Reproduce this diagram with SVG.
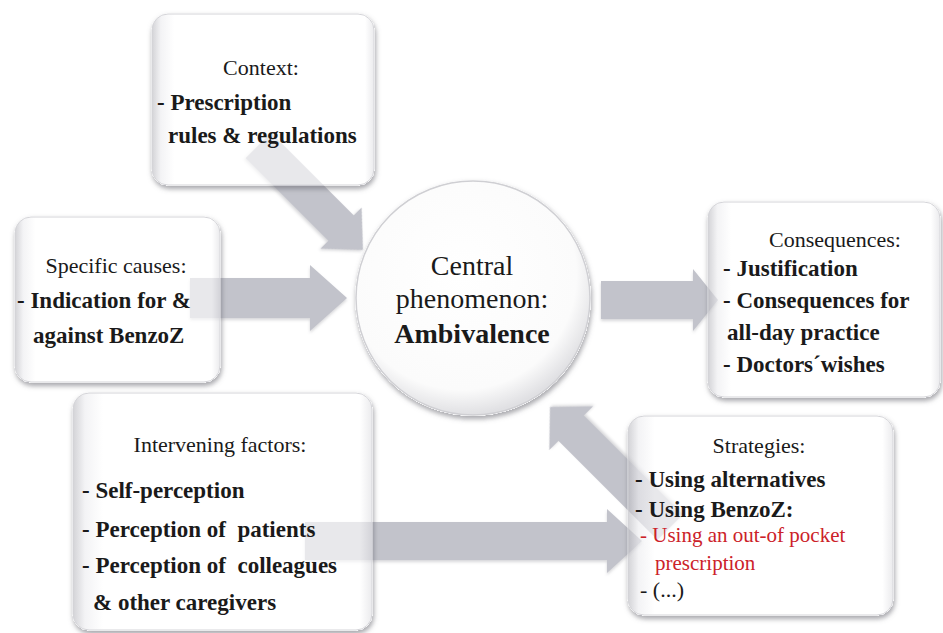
<svg xmlns="http://www.w3.org/2000/svg" width="943" height="633" viewBox="0 0 943 633">
<style>
  .t { font-family: "Liberation Serif", "DejaVu Serif", serif; fill: #1a1a1a; }
  .h { font-size: 22px; }
  .b { font-size: 23px; font-weight: bold; }
  .c { font-size: 28px; }
  .r { font-size: 21px; fill: #cc2229; }
  .box { fill: url(#boxG); fill-opacity: 0.62; stroke: #d4d4d8; stroke-width: 1; filter: url(#sh); }
  .arr { fill: #c2c3cb; filter: url(#ash); }
</style>
<defs>
  <linearGradient id="boxG" x1="0" y1="0" x2="1" y2="0">
    <stop offset="0" stop-color="#b8b8be"/>
    <stop offset="0.04" stop-color="#ececef"/>
    <stop offset="0.1" stop-color="#ffffff"/>
    <stop offset="0.96" stop-color="#ffffff"/>
    <stop offset="1" stop-color="#dedee2"/>
  </linearGradient>
  <radialGradient id="cirG" cx="0.45" cy="0.4" r="0.6">
    <stop offset="0" stop-color="#ffffff"/>
    <stop offset="0.82" stop-color="#fbfbfb"/>
    <stop offset="1" stop-color="#e0e0e3"/>
  </radialGradient>
  <filter id="sh" x="-10%" y="-10%" width="125%" height="130%">
    <feComponentTransfer in="SourceAlpha" result="A"><feFuncA type="linear" slope="6"/></feComponentTransfer>
    <feGaussianBlur in="A" stdDeviation="2.5" result="blur"/>
    <feOffset in="blur" dx="1" dy="3" result="off"/>
    <feFlood flood-color="#6e6e76" flood-opacity="0.6"/>
    <feComposite in2="off" operator="in" result="shadow"/>
    <feComposite in="shadow" in2="A" operator="out" result="so"/>
    <feMerge><feMergeNode in="so"/><feMergeNode in="SourceGraphic"/></feMerge>
  </filter>
  <filter id="ash" x="-10%" y="-20%" width="120%" height="140%">
    <feDropShadow dx="0" dy="2" stdDeviation="1.5" flood-color="#9a9aa0" flood-opacity="0.4"/>
  </filter>
</defs>
<rect width="943" height="633" fill="#ffffff"/>

<g id="connectors">
  <polygon class="arr" transform="translate(363,250) rotate(45)" points="-148,-18 -31,-18 -31,-29 0,0 -31,29 -31,18 -148,18"/>
  <polygon class="arr" transform="translate(347,298)" points="-157,-20 -37,-20 -37,-33 0,0 -37,33 -37,20 -157,20"/>
  <polygon class="arr" transform="translate(718,300)" points="-117,-19 -25,-19 -25,-31 0,0 -25,31 -25,19 -117,19"/>
  <polygon class="arr" transform="translate(642,541)" points="-337,-19 -35,-19 -35,-32 0,0 -35,32 -35,19 -337,19"/>
  <polygon class="arr" transform="translate(550,407) rotate(-135)" points="-170,-18 -30,-18 -30,-31 0,0 -30,31 -30,18 -170,18"/>
</g>

<g id="context">
  <rect class="box" x="152" y="14" width="222" height="171" rx="16"/>
  <text class="t h" x="261" y="75" text-anchor="middle">Context:</text>
  <text class="t b" x="157" y="110">- Prescription</text>
  <text class="t b" x="168" y="143">rules &amp; regulations</text>
</g>

<g id="specific-causes">
  <rect class="box" x="15" y="217" width="205" height="165" rx="16"/>
  <text class="t h" x="116" y="273" text-anchor="middle">Specific causes:</text>
  <text class="t b" x="17" y="308">- Indication for &amp;</text>
  <text class="t b" x="33" y="343">against BenzoZ</text>
</g>

<g id="central">
  <circle cx="473" cy="298" r="117" fill="url(#cirG)" stroke="#cfcfd3" stroke-width="1.5" filter="url(#sh)"/>
  <text class="t c" x="472" y="275" text-anchor="middle">Central</text>
  <text class="t c" x="472" y="308" text-anchor="middle">phenomenon:</text>
  <text class="t c" x="472" y="343" text-anchor="middle" font-weight="bold">Ambivalence</text>
</g>

<g id="consequences">
  <rect class="box" x="708" y="202" width="232" height="195" rx="16"/>
  <text class="t h" x="835" y="247" text-anchor="middle">Consequences:</text>
  <text class="t b" x="723" y="276">- Justification</text>
  <text class="t b" x="723" y="308">- Consequences for</text>
  <text class="t b" x="727" y="340">all-day practice</text>
  <text class="t b" x="723" y="372">- Doctors´wishes</text>
</g>

<g id="intervening-factors">
  <rect class="box" x="73" y="393" width="299" height="237" rx="16"/>
  <text class="t h" x="220" y="452" text-anchor="middle">Intervening factors:</text>
  <text class="t b" x="82" y="498">- Self-perception</text>
  <text class="t b" x="82" y="537">- Perception of&#160; patients</text>
  <text class="t b" x="82" y="573">- Perception of&#160; colleagues</text>
  <text class="t b" x="93" y="610">&amp; other caregivers</text>
</g>

<g id="strategies">
  <rect class="box" x="628" y="416" width="265" height="199" rx="16"/>
  <text class="t h" x="759" y="453" text-anchor="middle">Strategies:</text>
  <text class="t b" x="635" y="487">- Using alternatives</text>
  <text class="t b" x="635" y="517">- Using BenzoZ:</text>
  <text class="t r" x="640" y="542">- Using an out-of pocket</text>
  <text class="t r" x="655" y="570">prescription</text>
  <text class="t h" x="640" y="597" font-size="20">- (...)</text>
</g>
</svg>
